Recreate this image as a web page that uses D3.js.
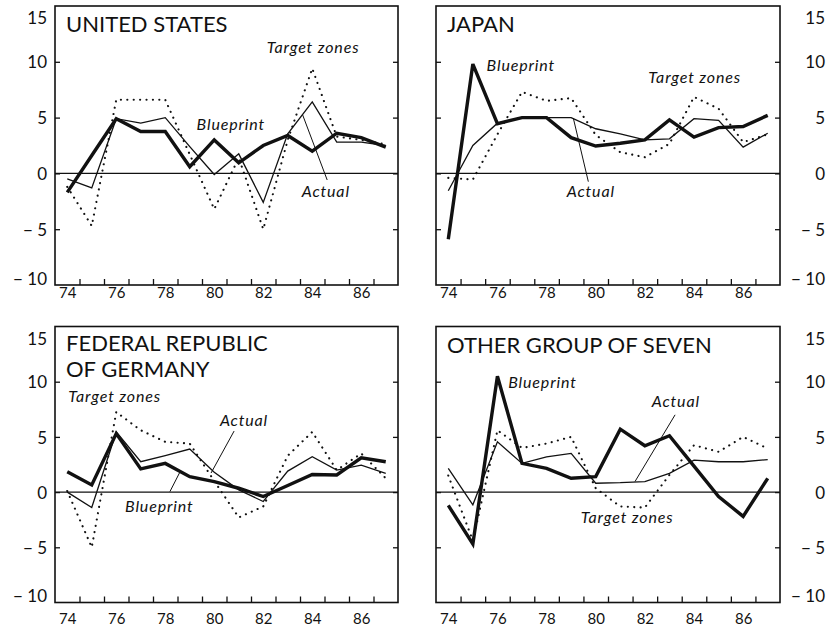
<!DOCTYPE html>
<html>
<head>
<meta charset="utf-8">
<script src="https://cdn.jsdelivr.net/npm/d3@7"></script>
<style>
  body { margin: 0; background: #fff; }
  svg text { font-family: Lato, "Open Sans", sans-serif; fill: #111; }
</style>
</head>
<body>
<svg id="chart" width="835" height="626"></svg>
<script>
// Years on the horizontal axis (1974–1987)
const years = [74, 75, 76, 77, 78, 79, 80, 81, 82, 83, 84, 85, 86, 87];
const yearLabels = [74, 76, 78, 80, 82, 84, 86];
const yTicks = [-10, -5, 0, 5, 10, 15];

// United States
const usBlueprint = [-1.7, 1.6, 4.9, 3.75, 3.75, 0.6, 3.0, 0.95, 2.5, 3.4, 2.0, 3.6, 3.2, 2.35];
const usActual    = [-0.5, -1.3, 4.9, 4.5, 5.0, 2.4, -0.1, 1.75, -2.6, 3.55, 6.4, 2.8, 2.8, 2.5];
const usTarget    = [-1.2, -4.7, 6.6, 6.6, 6.6, 1.7, -3.2, 1.4, -5.0, 3.0, 9.4, 3.3, 3.0, 2.6];

// Japan
const jpBlueprint = [-5.9, 9.8, 4.45, 5.0, 5.0, 3.2, 2.45, 2.7, 3.0, 4.8, 3.25, 4.1, 4.2, 5.2];
const jpActual    = [-1.55, 2.5, 4.5, 5.0, 5.0, 5.0, 4.0, 3.55, 3.0, 3.1, 4.9, 4.75, 2.35, 3.6];
const jpTarget    = [-0.4, -0.55, 3.5, 7.3, 6.5, 6.75, 3.45, 1.9, 1.45, 2.65, 6.85, 5.8, 2.8, 3.5];

// Federal Republic of Germany
const deBlueprint = [1.85, 0.65, 5.3, 2.1, 2.6, 1.4, 0.95, 0.35, -0.4, 0.6, 1.6, 1.55, 3.1, 2.75];
const deActual    = [0.0, -1.4, 5.45, 2.75, 3.3, 3.9, 1.8, 0.2, -0.85, 1.9, 3.2, 2.0, 2.45, 1.7];
const deTarget    = [0.1, -5.0, 7.25, 5.6, 4.55, 4.4, 1.0, -2.3, -1.3, 3.3, 5.45, 2.0, 3.5, 1.25];

// Other Group of Seven
const g7Blueprint = [-1.2, -4.7, 10.5, 2.6, 2.15, 1.25, 1.4, 5.7, 4.2, 5.1, 2.35, -0.4, -2.2, 1.25];
const g7Actual    = [2.15, -1.15, 4.55, 2.6, 3.2, 3.5, 0.8, 0.85, 0.95, 1.7, 2.9, 2.75, 2.75, 2.95];
const g7Target    = [1.5, -4.4, 5.6, 4.0, 4.4, 5.0, 0.35, -1.3, -1.4, 1.55, 4.25, 3.65, 5.0, 3.95];

// Series labels [text, year, value] and leader lines [[year, value], [year, value]]
const usNotes = [["Blueprint", 79.28, 3.89], ["Target zones", 82.14, 10.79], ["Actual", 83.57, -2.11]];
const usLeaders = [[[83.61, 5.23], [84.61, -0.59]]];
const jpNotes = [["Blueprint", 75.56, 9.22], ["Actual", 78.82, -2.11], ["Target zones", 82.14, 8.10]];
const jpLeaders = [[[79.09, 4.94], [79.70, -0.74]]];
const deNotes = [["Target zones", 74.04, 8.16], ["Actual", 80.23, 6.01], ["Blueprint", 76.36, -1.80]];
const deLeaders = [[[80.81, 5.53], [79.87, 1.73]], [[78.19, 0.04], [78.60, 1.82]]];
const g7Notes = [["Blueprint", 76.44, 9.43], ["Actual", 82.28, 7.74], ["Target zones", 79.39, -2.80]];
const g7Leaders = [[[83.23, 7.0], [81.60, 0.96]]];

const panels = [
  { title: ["UNITED STATES"], blueprint: usBlueprint, actual: usActual, target: usTarget,
    notes: usNotes, leaders: usLeaders, left: 55, right: 398, top: 6, bottom: 285,
    side: "left", titleY: 25.7, labelY: 13 },
  { title: ["JAPAN"], blueprint: jpBlueprint, actual: jpActual, target: jpTarget,
    notes: jpNotes, leaders: jpLeaders, left: 436, right: 780, top: 6, bottom: 285,
    side: "right", titleY: 25.7, labelY: 13 },
  { title: ["FEDERAL REPUBLIC", "OF GERMANY"], blueprint: deBlueprint, actual: deActual, target: deTarget,
    notes: deNotes, leaders: deLeaders, left: 55, right: 398, top: 326.5, bottom: 602.5,
    side: "left", titleY: 24.7, labelY: 21 },
  { title: ["OTHER GROUP OF SEVEN"], blueprint: g7Blueprint, actual: g7Actual, target: g7Target,
    notes: g7Notes, leaders: g7Leaders, left: 436, right: 780, top: 326.5, bottom: 602.5,
    side: "right", titleY: 26.5, labelY: 21 }
];

const svg = d3.select("#chart");
const fmt = v => v < 0 ? "\u2212 " + Math.abs(v) : String(v);

panels.forEach(p => {
  const x = d3.scaleLinear().domain([73.5, 87.5]).range([p.left, p.right]);
  const y = d3.scaleLinear().domain([-10, 15]).range([p.bottom, p.top]);
  const g = svg.append("g");

  // zero line
  g.append("line")
    .attr("x1", p.left).attr("x2", p.right)
    .attr("y1", y(0)).attr("y2", y(0))
    .attr("stroke", "#111").attr("stroke-width", 1.3);

  // year ticks between years, pointing inward
  const xTickAxis = d3.axisBottom(x)
    .tickValues(years.slice(0, -1).map(v => v + 0.5))
    .tickSize(-6).tickFormat("");
  const gx = g.append("g").attr("transform", `translate(0,${p.bottom})`).call(xTickAxis);
  gx.select(".domain").remove();
  gx.selectAll(".tick line").attr("stroke", "#111").attr("stroke-width", 1.3);

  // year labels
  const xLabelAxis = d3.axisBottom(x).tickValues(yearLabels).tickSize(0).tickPadding(0);
  const gl = g.append("g").attr("transform", `translate(0,${p.bottom})`).call(xLabelAxis);
  gl.select(".domain").remove();
  gl.selectAll(".tick text")
    .attr("font-size", 15).attr("fill", "#111")
    .attr("font-family", "Lato, sans-serif")
    .attr("dy", null).attr("y", p.labelY);

  // value ticks on both vertical frame sides, pointing inward
  const inner = yTicks.filter(v => v > -10 && v < 15);
  const gyl = g.append("g").attr("transform", `translate(${p.left},0)`)
    .call(d3.axisLeft(y).tickValues(inner).tickSize(-5).tickFormat(""));
  gyl.select(".domain").remove();
  const gyr = g.append("g").attr("transform", `translate(${p.right},0)`)
    .call(d3.axisRight(y).tickValues(inner).tickSize(-5).tickFormat(""));
  gyr.select(".domain").remove();
  g.selectAll(".tick line").attr("stroke", "#111").attr("stroke-width", 1.3);

  // value labels on the outer side
  const yAxis = p.side === "left"
    ? d3.axisLeft(y).tickValues(yTicks).tickSize(0).tickPadding(8).tickFormat(fmt)
    : d3.axisRight(y).tickValues(yTicks).tickSize(0).tickPadding(45).tickFormat(fmt);
  const gy = g.append("g")
    .attr("transform", `translate(${p.side === "left" ? p.left : p.right},0)`)
    .call(yAxis);
  gy.select(".domain").remove();
  gy.selectAll(".tick text")
    .attr("font-size", 17).attr("fill", "#111")
    .attr("font-family", "Lato, sans-serif")
    .attr("text-anchor", "end")
    .attr("dy", d => d === 15 ? "1.05em" : d === -10 ? "-0.05em" : "0.36em");

  // frame
  g.append("rect")
    .attr("x", p.left).attr("y", p.top)
    .attr("width", p.right - p.left).attr("height", p.bottom - p.top)
    .attr("fill", "none").attr("stroke", "#111").attr("stroke-width", 1.6);

  const line = d3.line().x((d, i) => x(years[i])).y(d => y(d));

  g.append("path").datum(p.target).attr("d", line)
    .attr("fill", "none").attr("stroke", "#111").attr("stroke-width", 2.1)
    .attr("stroke-linecap", "round").attr("stroke-dasharray", "0.1,6.3");
  g.append("path").datum(p.actual).attr("d", line)
    .attr("fill", "none").attr("stroke", "#111").attr("stroke-width", 1.3)
    .attr("stroke-linejoin", "miter");
  g.append("path").datum(p.blueprint).attr("d", line)
    .attr("fill", "none").attr("stroke", "#111").attr("stroke-width", 3.4)
    .attr("stroke-linejoin", "miter").attr("stroke-miterlimit", 3);

  // leader lines
  p.leaders.forEach(([a, b]) => {
    g.append("line")
      .attr("x1", x(a[0])).attr("y1", y(a[1]))
      .attr("x2", x(b[0])).attr("y2", y(b[1]))
      .attr("stroke", "#111").attr("stroke-width", 1);
  });

  // series labels
  p.notes.forEach(([t, yr, v]) => {
    g.append("text").text(t)
      .attr("x", x(yr)).attr("y", y(v))
      .attr("font-size", 16).attr("font-style", "italic")
      .attr("letter-spacing", 0.85);
  });

  // panel title
  p.title.forEach((t, i) => {
    g.append("text").text(t)
      .attr("x", p.left + 11).attr("y", p.top + p.titleY + i * 25.7)
      .attr("font-size", 22);
  });
});
</script>
</body>
</html>
